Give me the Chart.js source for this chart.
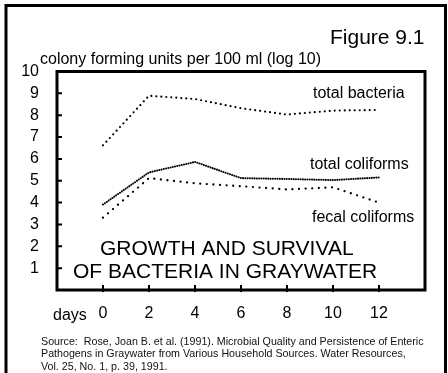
<!DOCTYPE html>
<html>
<head>
<meta charset="utf-8">
<title>Growth and Survival of Bacteria in Graywater</title>
<script src="https://cdn.jsdelivr.net/npm/chart.js@4/dist/chart.umd.min.js"></script>
<style>
  html, body { margin: 0; padding: 0; background: #fff; }
  #chart { display: block; }
</style>
</head>
<body>
<canvas id="chart" width="448" height="373"></canvas>
<script>
// log10 colony forming units per 100 ml, sampled every two days
const days = [0, 2, 4, 6, 8, 10, 12];
const totalBacteria = [6.62, 8.89, 8.74, 8.32, 8.03, 8.21, 8.24];
const totalColiforms = [3.91, 5.38, 5.86, 5.12, 5.08, 5.03, 5.15];
const fecalColiforms = [3.31, 5.12, 4.88, 4.75, 4.60, 4.70, 4.00];

const dayTicks = [0, 2, 4, 6, 8, 10, 12];
const logTicks = [1, 2, 3, 4, 5, 6, 7, 8, 9, 10];

const sourceLines = [
    'Source:  Rose, Joan B. et al. (1991). Microbial Quality and Persistence of Enteric',
    'Pathogens in Graywater from Various Household Sources. Water Resources,',
    'Vol. 25, No. 1, p. 39, 1991.'
];

const FONT = '"Liberation Sans", Arial, Helvetica, sans-serif';
Chart.defaults.font.family = FONT;
Chart.defaults.color = '#000';

function toPoints(values) {
    return days.map((d, i) => ({ x: d, y: values[i] }));
}

function dotted(label, values, width, dash) {
    return {
        label: label,
        data: toPoints(values),
        borderColor: '#000',
        borderWidth: width,
        borderDash: dash,
        borderCapStyle: 'round',
        borderJoinStyle: 'round',
        pointRadius: 0,
        tension: 0,
        fill: false
    };
}

// outer frame, plot box, inward tick marks and the annotations
const decorations = {
    id: 'decorations',
    afterDraw(chart) {
        const ctx = chart.ctx;
        const area = chart.chartArea;
        const xs = chart.scales.x;
        const ys = chart.scales.y;
        ctx.save();
        ctx.strokeStyle = '#000';

        ctx.lineWidth = 3;
        ctx.beginPath();
        ctx.moveTo(6, 380);
        ctx.lineTo(6, 5.5);
        ctx.lineTo(445.5, 5.5);
        ctx.lineTo(445.5, 380);
        ctx.stroke();

        ctx.strokeRect(area.left, area.top, area.right - area.left, area.bottom - area.top);

        ctx.lineWidth = 2;
        ctx.beginPath();
        logTicks.forEach(v => {
            const y = ys.getPixelForValue(v);
            ctx.moveTo(area.left, y);
            ctx.lineTo(area.left + 5, y);
        });
        dayTicks.forEach(v => {
            const x = xs.getPixelForValue(v);
            ctx.moveTo(x, area.bottom + 2);
            ctx.lineTo(x, area.bottom - 5);
        });
        ctx.stroke();

        ctx.fillStyle = '#000';
        ctx.textAlign = 'left';
        ctx.textBaseline = 'alphabetic';

        ctx.font = '21px ' + FONT;
        ctx.fillText('Figure 9.1', 330, 44);

        ctx.font = '16px ' + FONT;
        ctx.fillText('colony forming units per 100 ml (log 10)', 40, 64);
        ctx.fillText('total bacteria', 313, 98);
        ctx.fillText('total coliforms', 310, 169);
        ctx.fillText('fecal coliforms', 312, 221.5);
        ctx.fillText('days', 53, 319.5);

        ctx.font = '21px ' + FONT;
        ctx.fillText('GROWTH AND SURVIVAL', 100, 255);
        ctx.fillText('OF BACTERIA IN GRAYWATER', 73, 278);

        ctx.fillStyle = '#111';
        ctx.font = '10.7px ' + FONT;
        sourceLines.forEach((line, i) => {
            ctx.fillText(line, 41, 344.5 + i * 12.6);
        });
        ctx.restore();
    }
};

new Chart(document.getElementById('chart'), {
    type: 'line',
    data: {
        datasets: [
            dotted('total bacteria', totalBacteria, 2.2, [0, 5]),
            dotted('total coliforms', totalColiforms, 2.1, [0, 2.3]),
            dotted('fecal coliforms', fecalColiforms, 2.3, [0, 6.6])
        ]
    },
    options: {
        responsive: false,
        animation: false,
        events: [],
        layout: { padding: { top: 71.5, right: 23, left: 0, bottom: 0 } },
        plugins: {
            legend: { display: false },
            tooltip: { enabled: false },
            title: { display: false }
        },
        scales: {
            x: {
                type: 'linear',
                min: -2,
                max: 14,
                grid: { display: false, drawTicks: false },
                border: { display: false },
                afterBuildTicks: scale => { scale.ticks = dayTicks.map(v => ({ value: v })); },
                afterFit: scale => { scale.height = 83; },
                ticks: {
                    autoSkip: false,
                    maxRotation: 0,
                    padding: 14,
                    font: { size: 16 },
                    color: '#000'
                }
            },
            y: {
                type: 'linear',
                min: 0,
                max: 10,
                grid: { display: false, drawTicks: false },
                border: { display: false },
                afterBuildTicks: scale => { scale.ticks = logTicks.map(v => ({ value: v })); },
                afterFit: scale => { scale.width = 57; },
                ticks: {
                    autoSkip: false,
                    padding: 18,
                    font: { size: 16 },
                    color: '#000'
                }
            }
        }
    },
    plugins: [decorations]
});
</script>
</body>
</html>
